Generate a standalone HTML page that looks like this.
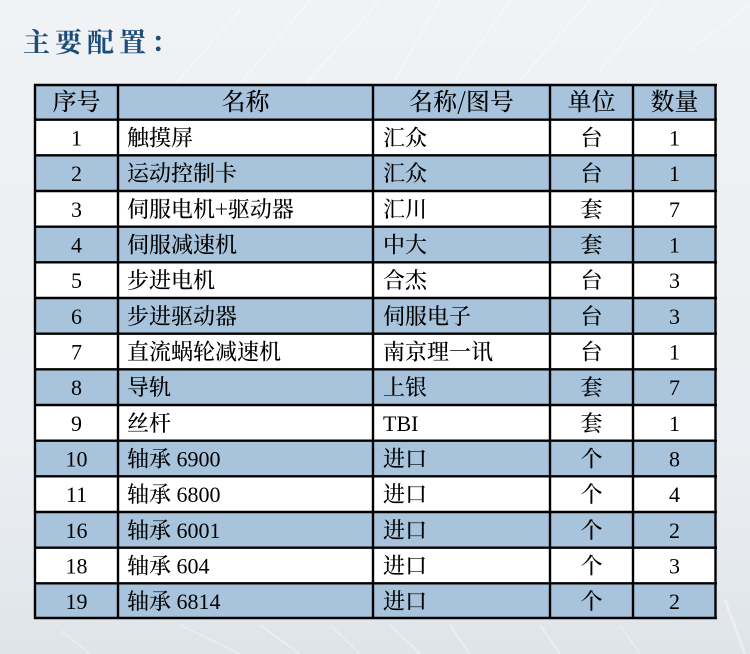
<!DOCTYPE html>
<html><head><meta charset="utf-8"><style>
html,body{margin:0;padding:0;}
body{width:750px;height:654px;overflow:hidden;background:#eef2f5;}
svg{display:block;}
.t{font-family:"Noto Serif CJK SC","Noto Serif CJK JP",serif;font-size:22px;font-weight:500;fill:#000;}
.h{font-family:"Noto Serif CJK SC","Noto Serif CJK JP",serif;font-size:24px;font-weight:500;fill:#000;}
.n{font-family:"Liberation Serif",serif;font-size:22px;fill:#000;}
.l{font-family:"Liberation Serif",serif;font-weight:400;}
.c{text-anchor:middle;}
</style></head><body>
<svg width="750" height="654" viewBox="0 0 750 654" xmlns="http://www.w3.org/2000/svg">
<defs>
<linearGradient id="bg" x1="0" y1="0" x2="0" y2="1">
<stop offset="0" stop-color="#f0f3f5"/><stop offset="0.75" stop-color="#e9edf1"/><stop offset="1" stop-color="#dfe4e9"/>
</linearGradient>
</defs>
<rect width="750" height="654" fill="url(#bg)"/>
<g stroke="#ffffff" stroke-opacity="0.35" fill="none">
<path d="M170 90 L240 10" stroke-width="1.5"/>
<path d="M235 90 L310 0" stroke-width="1.5"/>
<path d="M300 90 L380 0" stroke-width="1.5"/>
<path d="M395 80 L440 0" stroke-width="1.5"/>
<path d="M455 80 L510 0" stroke-width="1.5"/>
<path d="M520 80 L590 0" stroke-width="1.5"/>
<path d="M600 70 L660 0" stroke-width="1.5"/>
<path d="M690 50 L750 5" stroke-width="1.5"/>
<path d="M60 630 L90 654" stroke-width="1.5"/>
<path d="M180 625 L240 654" stroke-width="1.5"/>
<path d="M260 625 L300 654" stroke-width="2"/>
<path d="M330 625 L360 654" stroke-width="1.5"/>
<path d="M390 625 L420 654" stroke-width="2"/>
<path d="M450 625 L470 654" stroke-width="2"/>
<path d="M540 625 L560 654" stroke-width="2"/>
<path d="M620 625 L640 654" stroke-width="1.5"/>
<path d="M725 600 L745 654" stroke-width="3"/>
</g>
<text x="23" y="52" font-family="'Noto Serif CJK SC','WenQuanYi Zen Hei',serif" font-size="27" font-weight="bold" fill="#1c4c78" letter-spacing="5">主要配置：</text>

<!-- shaded rows -->
<g fill="#a8c4dc">
<rect x="35" y="84" width="681" height="35.67"/>
<rect x="35" y="155.33" width="681" height="35.67"/>
<rect x="35" y="226.67" width="681" height="35.67"/>
<rect x="35" y="298" width="681" height="35.67"/>
<rect x="35" y="369.33" width="681" height="35.67"/>
<rect x="35" y="440.67" width="681" height="35.67"/>
<rect x="35" y="512" width="681" height="35.67"/>
<rect x="35" y="583.33" width="681" height="35.67"/>
</g>
<g fill="#ffffff">
<rect x="35" y="119.67" width="681" height="35.67"/>
<rect x="35" y="191" width="681" height="35.67"/>
<rect x="35" y="262.33" width="681" height="35.67"/>
<rect x="35" y="333.67" width="681" height="35.67"/>
<rect x="35" y="405" width="681" height="35.67"/>
<rect x="35" y="476.33" width="681" height="35.67"/>
<rect x="35" y="547.67" width="681" height="35.67"/>
</g>
<!-- grid -->
<g stroke="#000" stroke-width="2.4">
<line x1="34" y1="85" x2="717" y2="85"/>
<line x1="34" y1="119.67" x2="717" y2="119.67"/>
<line x1="34" y1="155.33" x2="717" y2="155.33"/>
<line x1="34" y1="191" x2="717" y2="191"/>
<line x1="34" y1="226.67" x2="717" y2="226.67"/>
<line x1="34" y1="262.33" x2="717" y2="262.33"/>
<line x1="34" y1="298" x2="717" y2="298"/>
<line x1="34" y1="333.67" x2="717" y2="333.67"/>
<line x1="34" y1="369.33" x2="717" y2="369.33"/>
<line x1="34" y1="405" x2="717" y2="405"/>
<line x1="34" y1="440.67" x2="717" y2="440.67"/>
<line x1="34" y1="476.33" x2="717" y2="476.33"/>
<line x1="34" y1="512" x2="717" y2="512"/>
<line x1="34" y1="547.67" x2="717" y2="547.67"/>
<line x1="34" y1="583.33" x2="717" y2="583.33"/>
<line x1="34" y1="618" x2="717" y2="618"/>
<line x1="35" y1="84" x2="35" y2="619"/>
<line x1="118" y1="84" x2="118" y2="619"/>
<line x1="373" y1="84" x2="373" y2="619"/>
<line x1="550" y1="84" x2="550" y2="619"/>
<line x1="633" y1="84" x2="633" y2="619"/>
<line x1="715.5" y1="84" x2="715.5" y2="619"/>
</g>

<!-- header -->
<g class="h c">
<text x="76.5" y="110">序号</text>
<text x="245.5" y="110">名称</text>
<text x="461.5" y="110">名称/图号</text>
<text x="591.5" y="110">单位</text>
<text x="674.5" y="110">数量</text>
</g>

<!-- col 1 -->
<g class="n c">
<text x="76.5" y="145.5">1</text>
<text x="76.5" y="181">2</text>
<text x="76.5" y="217">3</text>
<text x="76.5" y="252.5">4</text>
<text x="76.5" y="288">5</text>
<text x="76.5" y="324">6</text>
<text x="76.5" y="359.5">7</text>
<text x="76.5" y="395">8</text>
<text x="76.5" y="431">9</text>
<text x="76.5" y="466.5">10</text>
<text x="76.5" y="502">11</text>
<text x="76.5" y="538">16</text>
<text x="76.5" y="573.5">18</text>
<text x="76.5" y="609">19</text>
</g>
<!-- col 2 -->
<g class="t">
<text x="127" y="145.5">触摸屏</text>
<text x="127" y="181">运动控制卡</text>
<text x="127" y="217">伺服电机+驱动器</text>
<text x="127" y="252.5">伺服减速机</text>
<text x="127" y="288">步进电机</text>
<text x="127" y="324">步进驱动器</text>
<text x="127" y="359.5">直流蜗轮减速机</text>
<text x="127" y="395">导轨</text>
<text x="127" y="431">丝杆</text>
<text x="127" y="466.5">轴承<tspan class="l"> 6900</tspan></text>
<text x="127" y="502">轴承<tspan class="l"> 6800</tspan></text>
<text x="127" y="538">轴承<tspan class="l"> 6001</tspan></text>
<text x="127" y="573.5">轴承<tspan class="l"> 604</tspan></text>
<text x="127" y="609">轴承<tspan class="l"> 6814</tspan></text>
</g>
<!-- col 3 -->
<g class="t">
<text x="383" y="145.5">汇众</text>
<text x="383" y="181">汇众</text>
<text x="383" y="217">汇川</text>
<text x="383" y="252.5">中大</text>
<text x="383" y="288">合杰</text>
<text x="383" y="324">伺服电子</text>
<text x="383" y="359.5">南京理一讯</text>
<text x="383" y="395">上银</text>
<text x="383" y="431" class="l">TBI</text>
<text x="383" y="466.5">进口</text>
<text x="383" y="502">进口</text>
<text x="383" y="538">进口</text>
<text x="383" y="573.5">进口</text>
<text x="383" y="609">进口</text>
</g>
<!-- col 4 -->
<g class="t c">
<text x="591.5" y="145.5">台</text>
<text x="591.5" y="181">台</text>
<text x="591.5" y="217">套</text>
<text x="591.5" y="252.5">套</text>
<text x="591.5" y="288">台</text>
<text x="591.5" y="324">台</text>
<text x="591.5" y="359.5">台</text>
<text x="591.5" y="395">套</text>
<text x="591.5" y="431">套</text>
<text x="591.5" y="466.5">个</text>
<text x="591.5" y="502">个</text>
<text x="591.5" y="538">个</text>
<text x="591.5" y="573.5">个</text>
<text x="591.5" y="609">个</text>
</g>
<!-- col 5 -->
<g class="n c">
<text x="674.5" y="145.5">1</text>
<text x="674.5" y="181">1</text>
<text x="674.5" y="217">7</text>
<text x="674.5" y="252.5">1</text>
<text x="674.5" y="288">3</text>
<text x="674.5" y="324">3</text>
<text x="674.5" y="359.5">1</text>
<text x="674.5" y="395">7</text>
<text x="674.5" y="431">1</text>
<text x="674.5" y="466.5">8</text>
<text x="674.5" y="502">4</text>
<text x="674.5" y="538">2</text>
<text x="674.5" y="573.5">3</text>
<text x="674.5" y="609">2</text>
</g>
</svg>
</body></html>
